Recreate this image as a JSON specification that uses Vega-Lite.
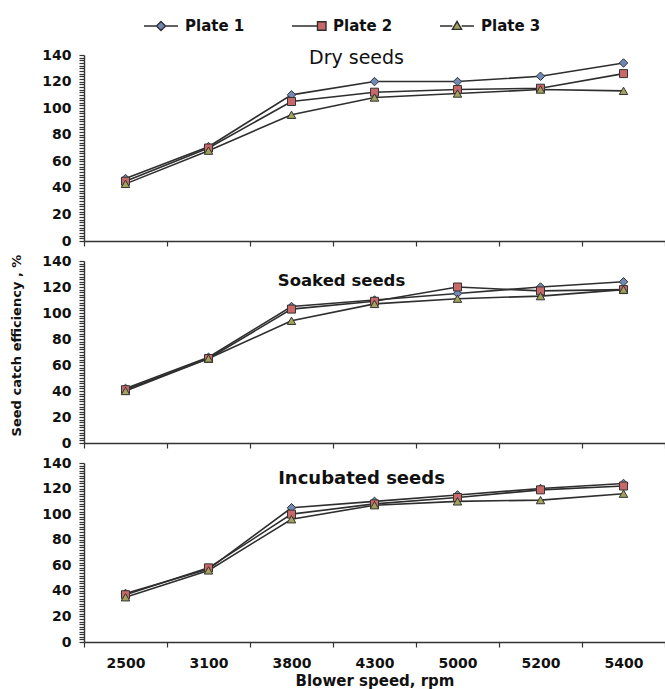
{
  "$schema": "https://vega.github.io/schema/vega-lite/v6.json",
  "padding": {"left": 10, "top": 8, "right": 0, "bottom": 1},
  "background": "white",
  "data": {"values": [
    {"cond": "Dry seeds", "plate": "Plate 1", "speed": "2500", "eff": 47},
    {"cond": "Dry seeds", "plate": "Plate 1", "speed": "3100", "eff": 71},
    {"cond": "Dry seeds", "plate": "Plate 1", "speed": "3800", "eff": 110},
    {"cond": "Dry seeds", "plate": "Plate 1", "speed": "4300", "eff": 120},
    {"cond": "Dry seeds", "plate": "Plate 1", "speed": "5000", "eff": 120},
    {"cond": "Dry seeds", "plate": "Plate 1", "speed": "5200", "eff": 124},
    {"cond": "Dry seeds", "plate": "Plate 1", "speed": "5400", "eff": 134},
    {"cond": "Dry seeds", "plate": "Plate 2", "speed": "2500", "eff": 45},
    {"cond": "Dry seeds", "plate": "Plate 2", "speed": "3100", "eff": 70},
    {"cond": "Dry seeds", "plate": "Plate 2", "speed": "3800", "eff": 105},
    {"cond": "Dry seeds", "plate": "Plate 2", "speed": "4300", "eff": 112},
    {"cond": "Dry seeds", "plate": "Plate 2", "speed": "5000", "eff": 114},
    {"cond": "Dry seeds", "plate": "Plate 2", "speed": "5200", "eff": 115},
    {"cond": "Dry seeds", "plate": "Plate 2", "speed": "5400", "eff": 126},
    {"cond": "Dry seeds", "plate": "Plate 3", "speed": "2500", "eff": 43},
    {"cond": "Dry seeds", "plate": "Plate 3", "speed": "3100", "eff": 68},
    {"cond": "Dry seeds", "plate": "Plate 3", "speed": "3800", "eff": 95},
    {"cond": "Dry seeds", "plate": "Plate 3", "speed": "4300", "eff": 108},
    {"cond": "Dry seeds", "plate": "Plate 3", "speed": "5000", "eff": 111},
    {"cond": "Dry seeds", "plate": "Plate 3", "speed": "5200", "eff": 114},
    {"cond": "Dry seeds", "plate": "Plate 3", "speed": "5400", "eff": 113},
    {"cond": "Soaked seeds", "plate": "Plate 1", "speed": "2500", "eff": 42},
    {"cond": "Soaked seeds", "plate": "Plate 1", "speed": "3100", "eff": 66},
    {"cond": "Soaked seeds", "plate": "Plate 1", "speed": "3800", "eff": 105},
    {"cond": "Soaked seeds", "plate": "Plate 1", "speed": "4300", "eff": 110},
    {"cond": "Soaked seeds", "plate": "Plate 1", "speed": "5000", "eff": 115},
    {"cond": "Soaked seeds", "plate": "Plate 1", "speed": "5200", "eff": 120},
    {"cond": "Soaked seeds", "plate": "Plate 1", "speed": "5400", "eff": 124},
    {"cond": "Soaked seeds", "plate": "Plate 2", "speed": "2500", "eff": 41},
    {"cond": "Soaked seeds", "plate": "Plate 2", "speed": "3100", "eff": 65},
    {"cond": "Soaked seeds", "plate": "Plate 2", "speed": "3800", "eff": 103},
    {"cond": "Soaked seeds", "plate": "Plate 2", "speed": "4300", "eff": 109},
    {"cond": "Soaked seeds", "plate": "Plate 2", "speed": "5000", "eff": 120},
    {"cond": "Soaked seeds", "plate": "Plate 2", "speed": "5200", "eff": 117},
    {"cond": "Soaked seeds", "plate": "Plate 2", "speed": "5400", "eff": 118},
    {"cond": "Soaked seeds", "plate": "Plate 3", "speed": "2500", "eff": 40},
    {"cond": "Soaked seeds", "plate": "Plate 3", "speed": "3100", "eff": 65},
    {"cond": "Soaked seeds", "plate": "Plate 3", "speed": "3800", "eff": 94},
    {"cond": "Soaked seeds", "plate": "Plate 3", "speed": "4300", "eff": 107},
    {"cond": "Soaked seeds", "plate": "Plate 3", "speed": "5000", "eff": 111},
    {"cond": "Soaked seeds", "plate": "Plate 3", "speed": "5200", "eff": 113},
    {"cond": "Soaked seeds", "plate": "Plate 3", "speed": "5400", "eff": 118},
    {"cond": "Incubated seeds", "plate": "Plate 1", "speed": "2500", "eff": 38},
    {"cond": "Incubated seeds", "plate": "Plate 1", "speed": "3100", "eff": 57},
    {"cond": "Incubated seeds", "plate": "Plate 1", "speed": "3800", "eff": 105},
    {"cond": "Incubated seeds", "plate": "Plate 1", "speed": "4300", "eff": 110},
    {"cond": "Incubated seeds", "plate": "Plate 1", "speed": "5000", "eff": 115},
    {"cond": "Incubated seeds", "plate": "Plate 1", "speed": "5200", "eff": 120},
    {"cond": "Incubated seeds", "plate": "Plate 1", "speed": "5400", "eff": 124},
    {"cond": "Incubated seeds", "plate": "Plate 2", "speed": "2500", "eff": 37},
    {"cond": "Incubated seeds", "plate": "Plate 2", "speed": "3100", "eff": 58},
    {"cond": "Incubated seeds", "plate": "Plate 2", "speed": "3800", "eff": 100},
    {"cond": "Incubated seeds", "plate": "Plate 2", "speed": "4300", "eff": 108},
    {"cond": "Incubated seeds", "plate": "Plate 2", "speed": "5000", "eff": 113},
    {"cond": "Incubated seeds", "plate": "Plate 2", "speed": "5200", "eff": 119},
    {"cond": "Incubated seeds", "plate": "Plate 2", "speed": "5400", "eff": 122},
    {"cond": "Incubated seeds", "plate": "Plate 3", "speed": "2500", "eff": 35},
    {"cond": "Incubated seeds", "plate": "Plate 3", "speed": "3100", "eff": 56},
    {"cond": "Incubated seeds", "plate": "Plate 3", "speed": "3800", "eff": 96},
    {"cond": "Incubated seeds", "plate": "Plate 3", "speed": "4300", "eff": 107},
    {"cond": "Incubated seeds", "plate": "Plate 3", "speed": "5000", "eff": 110},
    {"cond": "Incubated seeds", "plate": "Plate 3", "speed": "5200", "eff": 111},
    {"cond": "Incubated seeds", "plate": "Plate 3", "speed": "5400", "eff": 116}
  ]},
  "spacing": 20,
  "bounds": "flush",
  "vconcat": [
    {
      "width": 581, "height": 186,
      "title": {"text": "Dry seeds", "frame": "group", "anchor": "middle", "dx": -18, "offset": -29, "baseline": "middle", "fontSize": 19, "fontWeight": "normal"},
      "transform": [{"filter": "datum.cond === 'Dry seeds'"}],
      "encoding": {
        "x": {"field": "speed", "type": "ordinal", "sort": ["2500","3100","3800","4300","5000","5200","5400"], "scale": {"type": "band", "paddingInner": 0, "paddingOuter": 0}, "axis": {"labels": false, "title": null, "tickBand": "extent", "tickSize": 5}},
        "y": {"field": "eff", "type": "quantitative", "scale": {"domain": [0, 140], "nice": false}, "axis": {"values": [0,2,4,6,8,10,12,14,16,18,20,22,24,26,28,30,32,34,36,38,40,42,44,46,48,50,52,54,56,58,60,62,64,66,68,70,72,74,76,78,80,82,84,86,88,90,92,94,96,98,100,102,104,106,108,110,112,114,116,118,120,122,124,126,128,130,132,134,136,138,140], "labelExpr": "datum.value % 20 === 0 ? datum.label : ''", "labelOverlap": false, "title": null, "tickSize": 5, "labelPadding": 8}}
      },
      "layer": [
        {"mark": {"type": "line", "color": "#2e2e2e", "strokeWidth": 1.6}, "encoding": {"detail": {"field": "plate"}}},
        {"transform": [{"filter": "datum.plate === 'Plate 1'"}], "mark": {"type": "point", "shape": "diamond", "filled": true, "fill": "#7189b5", "stroke": "#333333", "strokeWidth": 1, "opacity": 1, "size": 72}},
        {"transform": [{"filter": "datum.plate === 'Plate 2'"}], "mark": {"type": "point", "shape": "square", "filled": true, "fill": "#c86868", "stroke": "#333333", "strokeWidth": 1, "opacity": 1, "size": 64}},
        {"transform": [{"filter": "datum.plate === 'Plate 3'"}], "mark": {"type": "point", "shape": "triangle-up", "filled": true, "fill": "#a2a25c", "stroke": "#333333", "strokeWidth": 1, "opacity": 1, "size": 72}},
        {"mark": {"type": "point", "filled": true, "stroke": "#2e2e2e", "strokeWidth": 1.4, "opacity": 1, "clip": true},
         "encoding": {
           "y": {"datum": -100, "type": "quantitative"},
           "color": {"field": "plate", "type": "nominal", "scale": {"domain": ["Plate 1","Plate 2","Plate 3"], "range": ["#7189b5","#c86868","#a2a25c"]},
             "legend": {"orient": "none", "legendX": 59, "legendY": -47, "direction": "horizontal", "title": null, "symbolSize": 1156, "labelFont": "DejaVu Sans", "labelFontSize": 15, "labelFontWeight": "bold", "labelColor": "#111111", "labelOffset": 6, "columnPadding": 44, "symbolStrokeColor": "#2e2e2e", "symbolStrokeWidth": 1.4, "symbolOpacity": 1}},
           "shape": {"field": "plate", "type": "nominal", "scale": {"domain": ["Plate 1","Plate 2","Plate 3"], "range": ["M-1,0H-0.265M0.265,0H1M0,-0.265L0.265,0L0,0.265L-0.265,0Z", "M-1,0H0.5M0.5,-0.25H1V0.25H0.5Z", "M-1,0H-0.27M0.27,0H1M0,-0.27L0.27,0.2L-0.27,0.2Z"]}}
         }}
      ]
    },
    {
      "width": 581, "height": 182,
      "title": {"text": "Soaked seeds", "frame": "group", "anchor": "middle", "dx": -33, "offset": -43, "baseline": "middle", "fontSize": 16.5, "fontWeight": "bold"},
      "transform": [{"filter": "datum.cond === 'Soaked seeds'"}],
      "encoding": {
        "x": {"field": "speed", "type": "ordinal", "sort": ["2500","3100","3800","4300","5000","5200","5400"], "scale": {"type": "band", "paddingInner": 0, "paddingOuter": 0}, "axis": {"labels": false, "title": null, "tickBand": "extent", "tickSize": 5}},
        "y": {"field": "eff", "type": "quantitative", "scale": {"domain": [0, 140], "nice": false}, "axis": {"values": [0,2,4,6,8,10,12,14,16,18,20,22,24,26,28,30,32,34,36,38,40,42,44,46,48,50,52,54,56,58,60,62,64,66,68,70,72,74,76,78,80,82,84,86,88,90,92,94,96,98,100,102,104,106,108,110,112,114,116,118,120,122,124,126,128,130,132,134,136,138,140], "labelExpr": "datum.value % 20 === 0 ? datum.label : ''", "labelOverlap": false, "title": "Seed catch efficiency , %", "titleFontSize": 13, "titlePadding": 18, "titleY": 84, "tickSize": 5, "labelPadding": 8}}
      },
      "layer": [
        {"mark": {"type": "line", "color": "#2e2e2e", "strokeWidth": 1.6}, "encoding": {"detail": {"field": "plate"}}},
        {"transform": [{"filter": "datum.plate === 'Plate 1'"}], "mark": {"type": "point", "shape": "diamond", "filled": true, "fill": "#7189b5", "stroke": "#333333", "strokeWidth": 1, "opacity": 1, "size": 72}},
        {"transform": [{"filter": "datum.plate === 'Plate 2'"}], "mark": {"type": "point", "shape": "square", "filled": true, "fill": "#c86868", "stroke": "#333333", "strokeWidth": 1, "opacity": 1, "size": 64}},
        {"transform": [{"filter": "datum.plate === 'Plate 3'"}], "mark": {"type": "point", "shape": "triangle-up", "filled": true, "fill": "#a2a25c", "stroke": "#333333", "strokeWidth": 1, "opacity": 1, "size": 72}}
      ]
    },
    {
      "width": 581, "height": 179,
      "title": {"text": "Incubated seeds", "frame": "group", "anchor": "middle", "dx": -13, "offset": -41, "baseline": "middle", "fontSize": 18, "fontWeight": "bold"},
      "transform": [{"filter": "datum.cond === 'Incubated seeds'"}],
      "encoding": {
        "x": {"field": "speed", "type": "ordinal", "sort": ["2500","3100","3800","4300","5000","5200","5400"], "scale": {"type": "band", "paddingInner": 0, "paddingOuter": 0}, "axis": {"title": "Blower speed, rpm", "titleFontSize": 15, "titlePadding": 3, "labelAngle": 0, "tickBand": "extent", "tickSize": 5, "labelPadding": 9}},
        "y": {"field": "eff", "type": "quantitative", "scale": {"domain": [0, 140], "nice": false}, "axis": {"values": [0,2,4,6,8,10,12,14,16,18,20,22,24,26,28,30,32,34,36,38,40,42,44,46,48,50,52,54,56,58,60,62,64,66,68,70,72,74,76,78,80,82,84,86,88,90,92,94,96,98,100,102,104,106,108,110,112,114,116,118,120,122,124,126,128,130,132,134,136,138,140], "labelExpr": "datum.value % 20 === 0 ? datum.label : ''", "labelOverlap": false, "title": null, "tickSize": 5, "labelPadding": 8}}
      },
      "layer": [
        {"mark": {"type": "line", "color": "#2e2e2e", "strokeWidth": 1.6}, "encoding": {"detail": {"field": "plate"}}},
        {"transform": [{"filter": "datum.plate === 'Plate 1'"}], "mark": {"type": "point", "shape": "diamond", "filled": true, "fill": "#7189b5", "stroke": "#333333", "strokeWidth": 1, "opacity": 1, "size": 72}},
        {"transform": [{"filter": "datum.plate === 'Plate 2'"}], "mark": {"type": "point", "shape": "square", "filled": true, "fill": "#c86868", "stroke": "#333333", "strokeWidth": 1, "opacity": 1, "size": 64}},
        {"transform": [{"filter": "datum.plate === 'Plate 3'"}], "mark": {"type": "point", "shape": "triangle-up", "filled": true, "fill": "#a2a25c", "stroke": "#333333", "strokeWidth": 1, "opacity": 1, "size": 72}}
      ]
    }
  ],
  "config": {
    "view": {"stroke": null},
    "font": "DejaVu Sans",
    "axis": {"labelFont": "DejaVu Sans", "labelFontSize": 14, "labelFontWeight": "bold", "labelColor": "#111111", "titleFont": "DejaVu Sans", "titleFontWeight": "bold", "titleColor": "#111111", "domainColor": "#333333", "tickColor": "#333333", "domainWidth": 1.4, "tickWidth": 1.2, "grid": false},
    "title": {"font": "DejaVu Sans", "color": "#111111"}
  }
}
